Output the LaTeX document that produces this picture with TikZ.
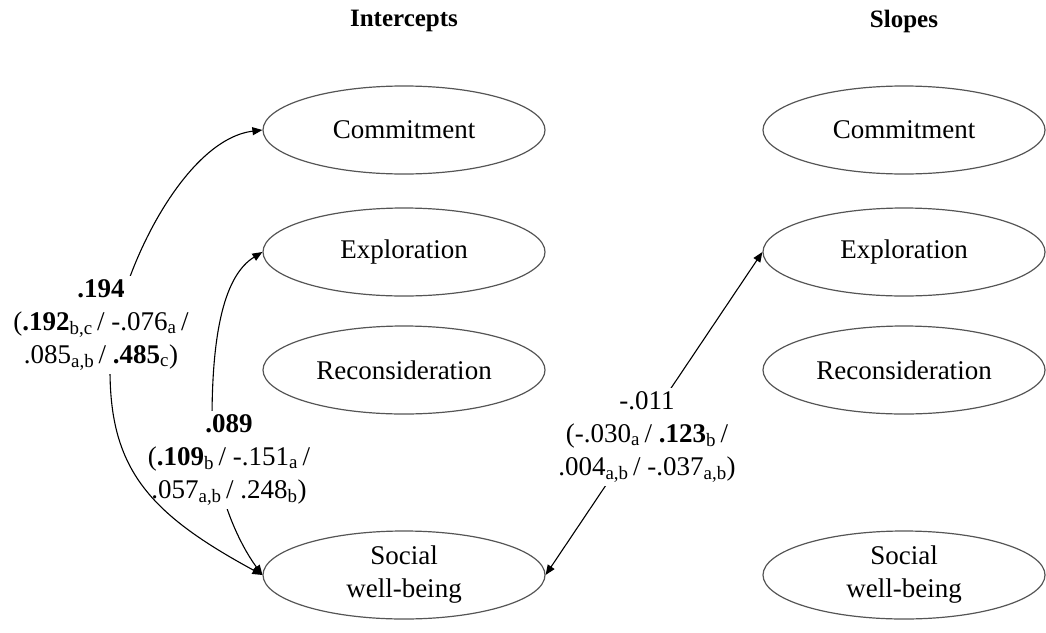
\documentclass[tikz,border=0pt]{standalone}
\usepackage{fontspec}
\setmainfont{Liberation Serif}
\usetikzlibrary{arrows.meta,shapes.geometric}
\usepackage{xcolor}
\definecolor{ellbord}{RGB}{85,85,85}
\newcommand{\ix}[1]{\textsubscript{#1}}

\begin{document}
\begin{tikzpicture}[x=1pt, y=-1pt,
  font=\fontsize{27}{33}\selectfont,
  factor/.style={
    draw=ellbord, ellipse, line width=1.2pt,
    minimum width=282pt, minimum height=88pt,
    inner sep=0pt, align=center
  },
  corr/.style={
    {Triangle[length=10pt,width=8pt]}-{Triangle[length=10pt,width=8pt]},
    line width=1.1pt
  },
  coef/.style={fill=white, align=center, inner sep=3pt},
  head/.style={font=\fontsize{25}{30}\selectfont\bfseries}
]
\useasboundingbox (0,0) rectangle (1046,632);

%% ── Column titles ────────────────────────────────────────────────────────────
\node[head] (tInt) at (404,21) {Intercepts};
\node[head] (tSlo) at (904,21) {Slopes};

%% ── Intercept factors ────────────────────────────────────────────────────────
\node[factor] (iCom) at (404,130) {Commitment};
\node[factor] (iExp) at (404,252) {Exploration};
\node[factor] (iRec) at (404,370) {Reconsideration};
\node[factor] (iSwb) at (404,575) {Social\\well-being};

%% ── Slope factors ────────────────────────────────────────────────────────────
\node[factor] (sCom) at (904,130) {Commitment};
\node[factor] (sExp) at (904,252) {Exploration};
\node[factor] (sRec) at (904,370) {Reconsideration};
\node[factor] (sSwb) at (904,575) {Social\\well-being};

%% ── Correlations ─────────────────────────────────────────────────────────────
\draw[corr] (iSwb.west) .. controls (240,545) and (212,490) .. (212,420)
  .. controls (212,330) and (225,275) .. (iExp.west);
\draw[corr] (iSwb.east) -- (sExp.west);

\node[coef] (cExp) at (229,460) {%
  \textbf{.089}\\
  (\textbf{.109}\ix{b}\,/ -.151\ix{a}\,/\\
  .057\ix{a,b}\,/ .248\ix{b})%
};
\node[coef] (cSlo) at (647,437) {%
  -.011\\
  (-.030\ix{a}\,/ \textbf{.123}\ix{b}\,/\\
  .004\ix{a,b}\,/ -.037\ix{a,b})%
};

\draw[corr] (iSwb.west) .. controls (150,514) and (110,470) .. (110,370)
  .. controls (110,290) and (180,140) .. (iCom.west);

\node[coef] (cCom) at (101,325) {%
  \textbf{.194}\\
  (\textbf{.192}\ix{b,c}\,/ -.076\ix{a}\,/\\
  .085\ix{a,b}\,/ \textbf{.485}\ix{c})%
};

\end{tikzpicture}
\end{document}
